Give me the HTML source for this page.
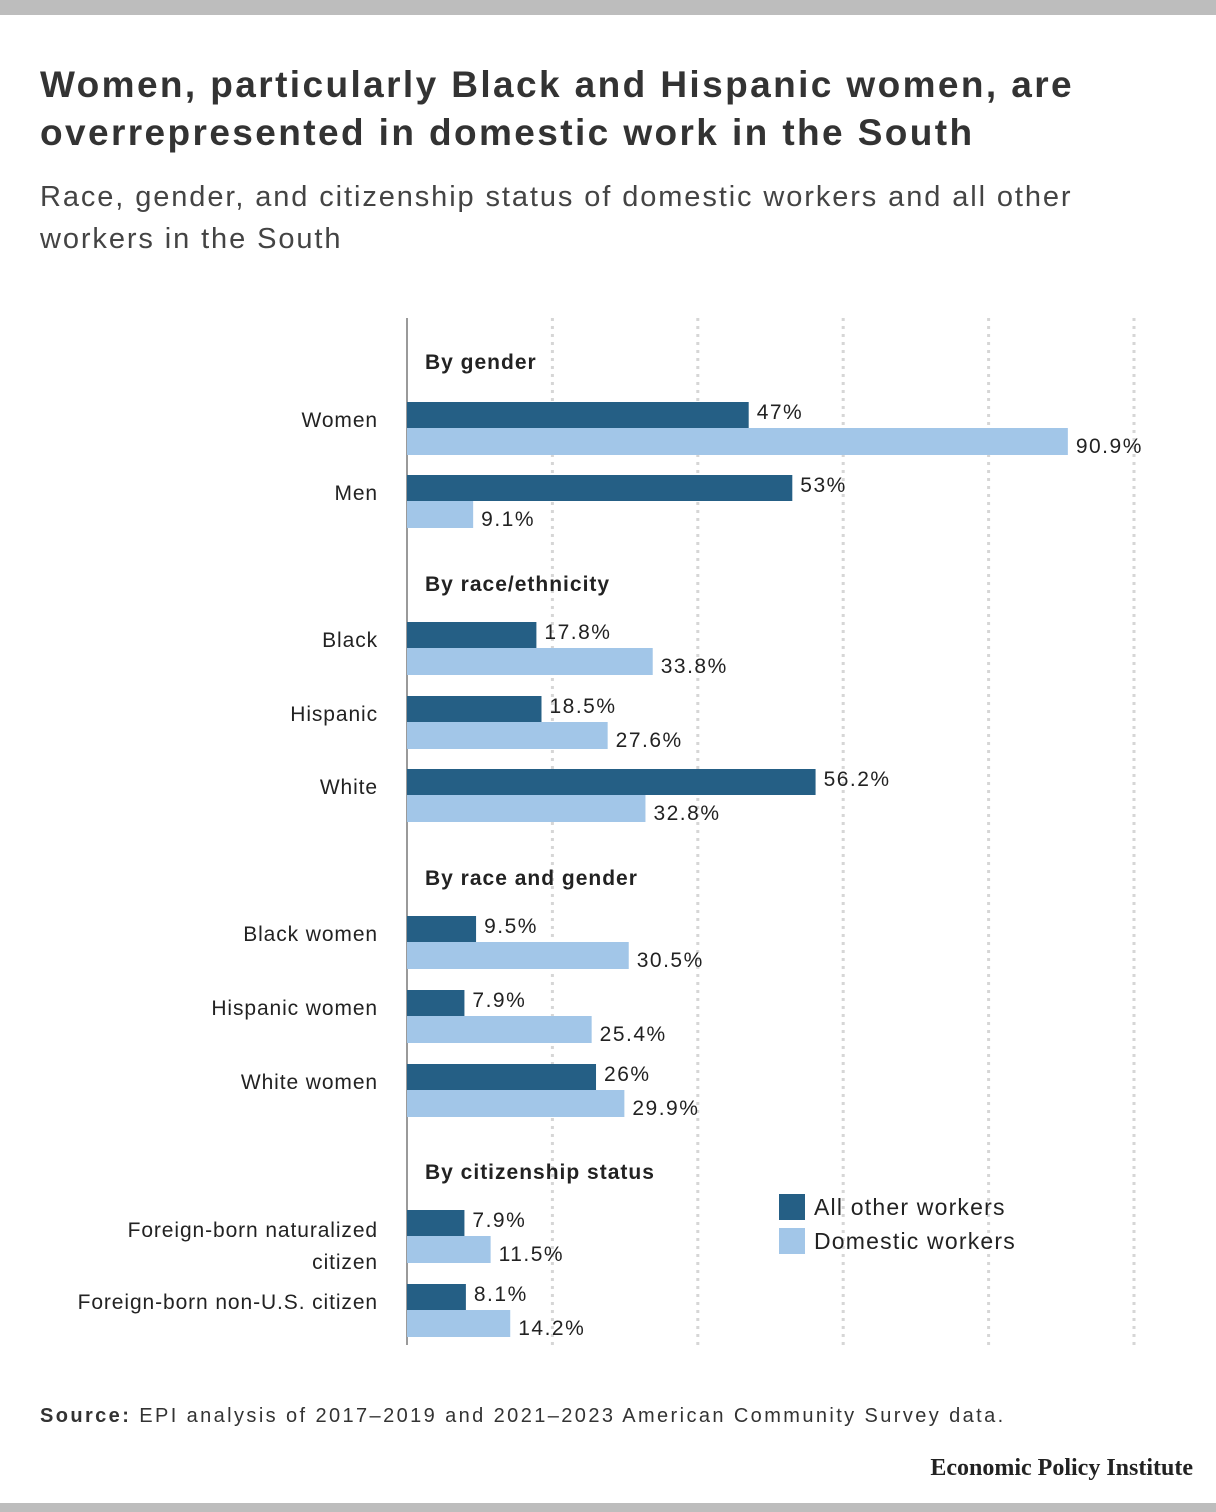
<!DOCTYPE html>
<html><head><meta charset="utf-8"><style>
body{margin:0;width:1216px;height:1512px;background:#fff;font-family:"Liberation Sans",sans-serif;position:relative;overflow:hidden}
.bar{position:absolute;left:0;right:0;height:15px;background:#bdbdbd}
h1{position:absolute;left:40px;top:61px;margin:0;font-size:37px;letter-spacing:2.4px;line-height:48px;color:#333;font-weight:bold;width:1160px}
.sub{position:absolute;left:40px;top:176px;font-size:29px;letter-spacing:1.9px;line-height:42px;color:#444;width:1100px}
.src{position:absolute;left:40px;top:1405px;font-size:20px;letter-spacing:2.4px;color:#333;white-space:nowrap}
.logo{position:absolute;right:23px;top:1455px;font-family:"Liberation Serif",serif;font-weight:bold;font-size:24px;color:#222}
</style></head><body>
<div class="bar" style="top:0"></div>
<div class="bar" style="top:1503px;height:9px"></div>
<h1>Women, particularly Black and Hispanic women, are overrepresented in domestic work in the South</h1>
<div class="sub">Race, gender, and citizenship status of domestic workers and all other workers in the South</div>
<svg id="chart" width="1216" height="1512" style="position:absolute;left:0;top:0"></svg>
<div class="src"><b>Source:</b> EPI analysis of 2017–2019 and 2021–2023 American Community Survey data.</div>
<div class="logo">Economic Policy Institute</div>
<script>
const categories=["Women","Men","Black","Hispanic","White","Black women","Hispanic women","White women","Foreign-born naturalized|citizen","Foreign-born non-U.S. citizen"];
const otherWorkers=[47,53,17.8,18.5,56.2,9.5,7.9,26,7.9,8.1];
const domesticWorkers=[90.9,9.1,33.8,27.6,32.8,30.5,25.4,29.9,11.5,14.2];
const rowTops=[402,475,622,696,769,916,990,1064,1210,1284];
const sections=["By gender","By race/ethnicity","By race and gender","By citizenship status"];
const sectionY=[362,584,878,1172];
const ticks=[0,20,40,60,80,100];
const NS="http://www.w3.org/2000/svg";
const svg=document.getElementById('chart');
const x0=407,pxPer=7.27;
const X=v=>x0+v*pxPer;
function mk(t,a){const e=document.createElementNS(NS,t);for(const k in a)e.setAttribute(k,a[k]);svg.appendChild(e);return e;}
ticks.forEach((t,i)=>{if(t===0)return;
const g=mk('line',{x1:X(t),x2:X(t),y1:318,y2:1345,stroke:'#d6d6d6','stroke-width':3,'stroke-dasharray':'3,5'});

});
const ax=mk('line',{x1:x0,x2:x0,y1:318,y2:1345,stroke:'#9a9a9a','stroke-width':2});


sections.forEach((s,i)=>{const t=mk('text',{x:425,y:sectionY[i]+7,'font-size':21,'letter-spacing':1,'font-weight':'bold',fill:'#222','font-family':'Liberation Sans'});t.textContent=s;

});
const fmt=v=>v+'%';
categories.forEach((c,i)=>{const y=rowTops[i];
const lines=c.split('|');
lines.forEach((l,j)=>{const t=mk('text',{x:378,y:(lines.length>1?y+27:y+25)+j*32,'text-anchor':'end','font-size':21,'letter-spacing':0.9,fill:'#222','font-family':'Liberation Sans'});t.textContent=l;

});
const b1=mk('rect',{x:x0,y:y,width:X(otherWorkers[i])-x0,height:26,fill:'#255f85'});


const b2=mk('rect',{x:x0,y:y+26,width:X(domesticWorkers[i])-x0,height:27,fill:'#a2c6e8'});


const t1=mk('text',{x:X(otherWorkers[i])+8,y:y+17,'font-size':21,'letter-spacing':1.5,fill:'#222','font-family':'Liberation Sans'});t1.textContent=fmt(otherWorkers[i]);


const t2=mk('text',{x:X(domesticWorkers[i])+8,y:y+51,'font-size':21,'letter-spacing':1.5,fill:'#222','font-family':'Liberation Sans'});t2.textContent=fmt(domesticWorkers[i]);

});
[['All other workers','#255f85',1194],['Domestic workers','#a2c6e8',1228]].forEach(l=>{
const r=mk('rect',{x:779,y:l[2],width:26,height:26,fill:l[1]});


const t=mk('text',{x:814,y:l[2]+21,'font-size':23,'letter-spacing':1.2,fill:'#222','font-family':'Liberation Sans'});t.textContent=l[0];

});
</script>
</body></html>
